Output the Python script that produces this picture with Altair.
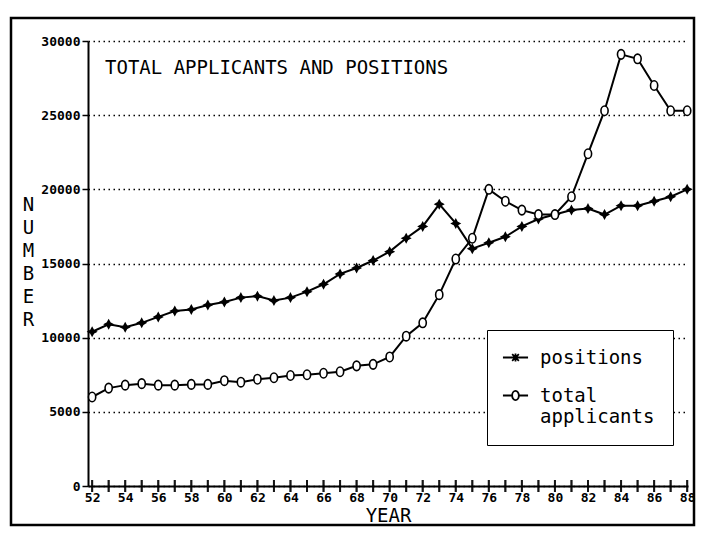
import altair as alt
import pandas as pd

# ---- data ----
years = list(range(52, 89))
positions = [10400, 10900, 10700, 11000, 11400, 11800, 11900, 12200, 12400, 12700,
             12800, 12500, 12700, 13100, 13600, 14300, 14700, 15200, 15800, 16700,
             17500, 19000, 17700, 16000, 16400, 16800, 17500, 18000, 18300, 18600,
             18700, 18300, 18900, 18900, 19200, 19500, 20000]
applicants = [6000, 6600, 6800, 6900, 6800, 6800, 6850, 6850, 7100, 7000,
              7200, 7300, 7450, 7500, 7600, 7700, 8100, 8200, 8700, 10100,
              11000, 12900, 15300, 16700, 20000, 19200, 18600, 18300, 18300, 19500,
              22400, 25300, 29100, 28800, 27000, 25300, 25300]
series_names = ["positions", "total applicants"]
title_text = "TOTAL APPLICANTS AND POSITIONS"
x_title = "YEAR"
y_title = ["N", "U", "M", "B", "E", "R"]
y_ticks = [0, 5000, 10000, 15000, 20000, 25000, 30000]
x_label_years = list(range(52, 89, 2))

df = pd.DataFrame({
    "year": years * 2,
    "value": positions + applicants,
    "series": [series_names[0]] * len(years) + [series_names[1]] * len(years),
})

MONO = "DejaVu Sans Mono"

x_scale = alt.Scale(domain=[51.75, 88.05], nice=False, zero=False)
y_scale = alt.Scale(domain=[0, 30000], nice=False)

x_axis = alt.Axis(values=x_label_years, format="d", title=x_title, grid=False,
                  tickSize=0, labelPadding=5, labelFont=MONO, labelFontSize=13,
                  labelFontWeight="bold", labelColor="black", labelFlush=False,
                  titleFont=MONO, titleFontSize=19, titleFontWeight="normal",
                  titleColor="black", titlePadding=2,
                  domainColor="black", domainWidth=2)
y_axis = alt.Axis(values=y_ticks, format="d", title=y_title, titleAngle=0,
                  titleX=-60, titleY=154, titleBaseline="top", titleAlign="center",
                  titleFont=MONO, titleFontSize=19, titleFontWeight="normal",
                  titleLineHeight=23, titleColor="black",
                  tickSize=6, tickColor="black", tickWidth=1.5,
                  labelFont=MONO, labelFontSize=13, labelFontWeight="bold",
                  labelColor="black", labelPadding=2,
                  grid=True, gridDash=[1.5, 3.5], gridColor="black", gridWidth=1.5,
                  gridOpacity=1, domainColor="black", domainWidth=2)

x_enc = alt.X("year:Q", scale=x_scale, axis=x_axis)
y_enc = alt.Y("value:Q", scale=y_scale, axis=y_axis)

base = alt.Chart(df)

lines = base.mark_line(color="black", strokeWidth=2).encode(
    x=x_enc, y=y_enc, detail="series:N")

star_path = "M0,-0.85L0.3,-0.3L0.85,0L0.3,0.3L0,0.85L-0.3,0.3L-0.85,0L-0.3,-0.3Z"
ring_path = "M0,-1.05A0.8,1.05 0 1,1 0,1.05A0.8,1.05 0 1,1 0,-1.05Z"

points = base.mark_point(filled=True, stroke="black", strokeWidth=1.6, opacity=1,
                         size=81).encode(
    x=x_enc, y=y_enc,
    shape=alt.Shape("series:N", scale=alt.Scale(domain=series_names,
                                                range=[star_path, ring_path]),
                    legend=None),
    fill=alt.Fill("series:N", scale=alt.Scale(domain=series_names,
                                              range=["black", "white"]),
                  legend=None),
)

leg_pos_path = "M-3,0L3,0M-0.8,-0.8L0.8,0.8M-0.8,0.8L0.8,-0.8M0,-0.95L0,0.95"
leg_app_path = "M-3,0L-0.8,0M0.8,0L3,0M0,-1.1A0.8,1.1 0 1,1 0,1.1A0.8,1.1 0 1,1 0,-1.1Z"

legend_layer = base.transform_filter("false").mark_point(
    filled=False, color="black", strokeWidth=1.8, opacity=1).encode(
    x=x_enc, y=y_enc,
    shape=alt.Shape("series:N",
                    scale=alt.Scale(domain=series_names,
                                    range=[leg_pos_path, leg_app_path]),
                    legend=alt.Legend(
                        title=None, orient="none", legendX=399, legendY=289,
                        direction="vertical", fillColor="white",
                        strokeColor="black", padding=18,
                        symbolSize=70, symbolOffset=1, labelOffset=15,
                        symbolStrokeColor="black", symbolStrokeWidth=1.8,
                        symbolOpacity=1,
                        rowPadding=18,
                        labelFont=MONO, labelFontSize=19, labelColor="black",
                        labelLimit=400,
                        labelExpr="datum.value == 'total applicants' ? ['total', 'applicants'] : datum.label",
                    )),
)

ticks = base.transform_calculate(zero="0").mark_tick(
    orient="vertical", color="black", thickness=2, size=12).encode(
    x=x_enc, y=alt.Y("zero:Q", scale=y_scale, axis=y_axis))

title_layer = alt.Chart(pd.DataFrame({"t": [title_text]})).mark_text(
    align="left", baseline="middle", font=MONO, fontSize=19, color="black").encode(
    text="t:N", x=alt.value(17), y=alt.value(27))

frame = alt.Chart(pd.DataFrame({"a": [0]})).mark_rect(
    fillOpacity=0, stroke="black", strokeWidth=2.5).encode(
    x=alt.value(-77), x2=alt.value(606), y=alt.value(-23), y2=alt.value(484))

chart = alt.layer(frame, lines, ticks, points, legend_layer, title_layer).resolve_scale(
    shape="independent"
).properties(
    width=600, height=445,
    autosize=alt.AutoSizeParams(type="none"),
    padding={"left": 80, "top": 33, "right": 8, "bottom": 42},
    background="white",
).configure_view(strokeWidth=0)

chart.save("out.html", embed_options={"renderer": "svg", "actions": False})
